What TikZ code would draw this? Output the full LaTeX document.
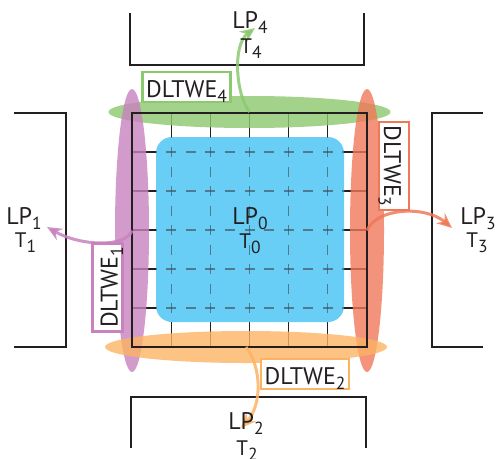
\documentclass[tikz,border=0pt]{standalone}
\usepackage{fontspec}
\setmainfont{PT Sans}
\usetikzlibrary{arrows.meta,shapes.geometric}

\definecolor{inkblack}{RGB}{35,31,32}
\definecolor{skyfill}{RGB}{104,206,245}
\definecolor{gridmark}{RGB}{60,70,80}
\definecolor{weGreen}{RGB}{140,200,110}
\definecolor{wePurple}{RGB}{200,130,190}
\definecolor{weRed}{RGB}{240,120,90}
\definecolor{weOrange}{RGB}{252,180,100}

% lowered index digit
\newcommand\lowidx[1]{\raisebox{-5.5pt}{\fontsize{17.5}{17.5}\selectfont #1}}

\begin{document}
\begin{tikzpicture}[x=1pt,y=-1pt,
  bigtxt/.style={font=\fontsize{24}{24}\selectfont, inner sep=0pt, anchor=base, text=inkblack},
  smalltxt/.style={font=\fontsize{21}{21}\selectfont, inner sep=0pt, anchor=base, text=inkblack},
  weband/.style={ellipse, inner sep=0pt, fill=#1, fill opacity=0.8, draw=none},
  wearrow/.style={draw=#1, draw opacity=0.85, line width=3pt,
    -{Stealth[length=15pt,width=13pt,inset=5pt]}},
  webox/.style={draw=#1, line width=2.6pt, fill=white, inner xsep=0pt, inner ysep=0pt,
    text height=25pt, text depth=5pt, minimum width=88pt,
    font=\fontsize{24}{24}\selectfont, anchor=base, text=inkblack},
  bracket/.style={draw=inkblack, line width=2pt},
  gridline/.style={draw=inkblack, line width=1.2pt},
  gridmarks/.style={draw=gridmark, line width=1.2pt, opacity=0.6},
]
\useasboundingbox (0,0) rectangle (497,458);

% neighbouring partitions
\draw[bracket] (130,13) -- (130,65) -- (364,65) -- (364,13);
\draw[bracket] (14,113) -- (66,113) -- (66,347) -- (14,347);
\draw[bracket] (483,113) -- (432,113) -- (432,347) -- (483,347);
\draw[bracket] (131,448) -- (131,397) -- (366,397) -- (366,448);

% solid grid of the local partition
\foreach \k in {1,...,5} {
  \draw[gridline] ({132+235/6*\k},113) -- ({132+235/6*\k},347);
  \draw[gridline] (132,{113+39*\k}) -- (367,{113+39*\k});
}

% interior block
\fill[skyfill, rounded corners=16pt] (156,137) rectangle (344,322);
\begin{scope}
  \clip[rounded corners=16pt] (156,137) rectangle (344,322);
  \foreach \k in {1,...,5} {
    \draw[gridmarks, dash pattern=on 10pt off 9.5pt]
      ({132+235/6*\k},108) -- ({132+235/6*\k},352);
    \draw[gridmarks, dash pattern=on 10pt off 9.583pt]
      (127,{113+39*\k}) -- (372,{113+39*\k});
  }
\end{scope}

% halo bands
\node[weband=weGreen, minimum width=282pt, minimum height=32pt] (e4) at (249.5,112) {};
\node[weband=wePurple, minimum width=34pt, minimum height=283pt] (e1) at (132,230.5) {};
\node[weband=weRed, minimum width=34pt, minimum height=283pt] (e3) at (367,230.5) {};
\node[weband=weOrange, minimum width=282pt, minimum height=32pt] (e2) at (246,347) {};

% partition border
\draw[inkblack, line width=2.5pt] (132,113) rectangle (367,347);

% exchange arrows
\coordinate (t4) at (255,28);
\coordinate (t1) at (47,227);
\coordinate (t3) at (452,228);
\coordinate (t2) at (241,428);
\draw[wearrow=weGreen] (e4.center) .. controls (236,95) and (232,45) .. (t4);
\draw[wearrow=wePurple] (e1.center) .. controls (126,248) and (80,246) .. (t1);
\draw[wearrow=weRed] (e3.center) .. controls (376,208) and (425,205) .. (t3);
\draw[wearrow=weOrange] (e2.center) .. controls (262,368) and (262,405) .. (t2);

% band labels
\node[webox=weGreen] (b4) at (186.5,97) {DLTWE\lowidx{4}};
\node[webox=weOrange] (b2) at (305,384) {DLTWE\lowidx{2}};
\node[webox=wePurple, rotate=90] (b1) at (117.5,287.5) {DLTWE\lowidx{1}};
\node[webox=weRed, rotate=-90] (b3) at (384,166) {DLTWE\lowidx{3}};

% partition labels
\node[bigtxt] (lp0) at (250,224) {LP\lowidx{0}};
\node[smalltxt] (tt0) at (250,248) {T\lowidx{0}};
\node[bigtxt] (lp1) at (24,224) {LP\lowidx{1}};
\node[smalltxt] (tt1) at (25.5,247) {T\lowidx{1}};
\node[bigtxt] (lp2) at (246,429) {LP\lowidx{2}};
\node[smalltxt] (tt2) at (247,455) {T\lowidx{2}};
\node[bigtxt] (lp3) at (478,224) {LP\lowidx{3}};
\node[smalltxt] (tt3) at (477,247) {T\lowidx{3}};
\node[bigtxt] (lp4) at (250,28) {LP\lowidx{4}};
\node[smalltxt] (tt4) at (251,53) {T\lowidx{4}};
\end{tikzpicture}
\end{document}
